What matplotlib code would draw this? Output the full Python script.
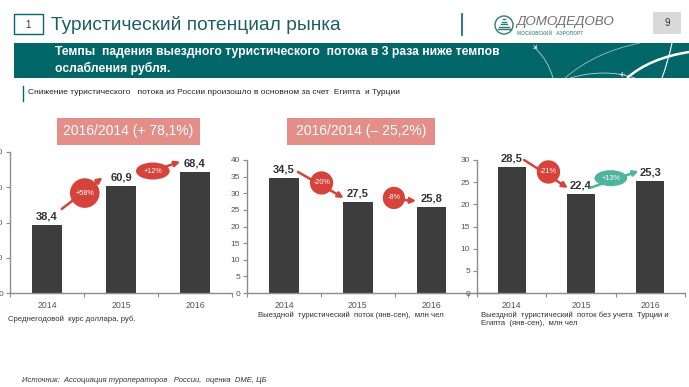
import matplotlib
matplotlib.use("Agg")
import matplotlib.pyplot as plt
from matplotlib.patches import Rectangle, PathPatch, Circle
from matplotlib.path import Path

plt.rcParams['font.family'] = ['Liberation Sans', 'DejaVu Sans']

# ---------------- data ----------------
years = ["2014", "2015", "2016"]
usd_rate = [38.4, 60.9, 68.4]
outbound_flow = [34.5, 27.5, 25.8]
outbound_ex_tr_eg = [28.5, 22.4, 25.3]
value_labels_1 = ["38,4", "60,9", "68,4"]
value_labels_2 = ["34,5", "27,5", "25,8"]
value_labels_3 = ["28,5", "22,4", "25,3"]
change_labels_1 = ["+58%", "+12%"]
change_labels_2 = ["-20%", "-8%"]
change_labels_3 = ["-21%", "+13%"]
yticks_1 = [0, 20, 40, 60, 80]
yticks_2 = [0, 5, 10, 15, 20, 25, 30, 35, 40]
yticks_3 = [0, 5, 10, 15, 20, 25, 30]

title = "Туристический потенциал рынка"
banner = "Темпы  падения выездного туристического  потока в 3 раза ниже темпов\nослабления рубля."
subtitle = "Снижение туристического   потока из России произошло в основном за счет  Египта  и Турции"
box1 = "2016/2014 (+ 78,1%)"
box2 = "2016/2014 (– 25,2%)"
cap1 = "Среднегодовой  курс доллара, руб."
cap2 = "Выездной  туристический  поток (янв-сен),  млн чел"
cap3 = "Выездной  туристический  поток без учета  Турции и\nЕгипта  (янв-сен),  млн чел"
source = "Источник:  Ассоциация туроператоров   России,  оценка  DME, ЦБ"

W, H = 689, 387
fig = plt.figure(figsize=(W / 100, H / 100), dpi=100)
fig.patch.set_facecolor("white")

TEAL = "#036669"
PINK = "#e38e89"
RED = "#d5433a"
GREEN = "#4fb3a2"
BAR = "#3d3d3d"
AX = "#8c8c8c"
TXT = "#555555"


def px_axes(left, top, right, bottom, **kw):
    return fig.add_axes([left / W, 1 - bottom / H, (right - left) / W, (bottom - top) / H], **kw)


# ---------------- overlay (header etc.) ----------------
ov = fig.add_axes([0, 0, 1, 1], zorder=0)
ov.set_xlim(0, W)
ov.set_ylim(H, 0)
ov.axis("off")

ov.add_patch(Rectangle((14, 14), 29, 20, fill=False, ec=TEAL, lw=1.0))
ov.text(28.5, 24.5, "1", ha="center", va="center", fontsize=7, color="#333333")
ov.text(51, 24.5, title, ha="left", va="center", fontsize=13.8, color="#1d5e63")
ov.plot([462, 462], [14, 35], color=TEAL, lw=1.2)
ov.add_patch(Circle((504, 25), 9, fill=False, ec="#2f7a78", lw=1.0))
for k in range(5):
    ov.plot([504 - 1.2 * k - 1, 504 + 1.2 * k + 1], [19 + 2.6 * k, 19 + 2.6 * k], color="#2f7a78", lw=1.0)
ov.text(516, 22.5, "ДОМОДЕДОВО", ha="left", va="center", fontsize=9.6, color="#6e6e6e",
        style="italic")
ov.text(517, 33, "МОСКОВСКИЙ   АЭРОПОРТ", ha="left", va="center", fontsize=3.4, color="#5a9a98",
        fontweight="bold")
ov.add_patch(Rectangle((653, 12), 28, 22, color="#d9d9d9", lw=0))
ov.text(667, 23.5, "9", ha="center", va="center", fontsize=7, color="#333333")

ov.add_patch(Rectangle((14, 43), W - 14, 35, color=TEAL, lw=0))
ov.text(55, 60.5, banner, ha="left", va="center", fontsize=8.7, color="white",
        fontweight="bold", linespacing=1.3)


def curve(pts, lw, alpha=1.0):
    codes = [Path.MOVETO] + [Path.CURVE3] * (len(pts) - 1)
    ov.add_patch(PathPatch(Path(pts, codes), fill=False, ec="white", lw=lw, alpha=alpha))


curve([(535, 48), (548, 60), (553, 78)], 0.6, 0.7)
curve([(565, 78), (595, 52), (640, 43)], 0.6, 0.6)
curve([(570, 78), (605, 68), (635, 78)], 0.6, 0.7)
curve([(627, 78), (650, 58), (689, 52)], 1.8)
curve([(672, 43), (668, 62), (662, 78)], 0.8)
ov.text(534, 47.5, "✈", fontsize=5, color="white", ha="center", va="center", family="DejaVu Sans", rotation=-40)
ov.text(622, 72, "✈", fontsize=5, color="white", ha="center", va="center", family="DejaVu Sans", rotation=180)

ov.plot([23, 23], [86, 101], color=TEAL, lw=1.0)
ov.text(28, 92.5, subtitle, ha="left", va="center", fontsize=6.0, color="#222222")

ov.add_patch(Rectangle((57, 118), 143, 27, color=PINK, lw=0))
ov.text(128.5, 131.5, box1, ha="center", va="center", fontsize=10, color="white")
ov.add_patch(Rectangle((287, 118), 148, 27, color=PINK, lw=0))
ov.text(361, 131.5, box2, ha="center", va="center", fontsize=10, color="white")

ov.text(8, 319, cap1, ha="left", va="center", fontsize=5.6, color="#333333")
ov.text(258, 315, cap2, ha="left", va="center", fontsize=5.6, color="#333333")
ov.text(481, 319, cap3, ha="left", va="center", fontsize=5.6, color="#333333", linespacing=1.25)
ov.text(22, 381, source, ha="left", va="center", fontsize=5.5, color="#333333", style="italic")


# ---------------- charts ----------------
def chart(ax, values, labels, yticks, xmax, changes, arrows, circles, colors, shapes):
    x = list(range(len(values)))
    ax.bar(x, values, width=0.4, color=BAR, zorder=2)
    ax.set_xlim(-0.5, xmax)
    ax.set_ylim(yticks[0], yticks[-1])
    ax.set_yticks(yticks)
    ax.set_yticklabels([str(t) for t in yticks])
    ax.set_xticks(x)
    ax.set_xticklabels(years)
    ax.set_xticks([i - 0.5 for i in range(len(values) + 1)], minor=True)
    ax.tick_params(axis="x", which="major", length=0, labelsize=6.3, labelcolor=TXT, pad=6)
    ax.tick_params(axis="x", which="minor", length=3, color=AX, width=0.8)
    ax.tick_params(axis="y", length=3, color=AX, width=0.8, labelsize=6, labelcolor=TXT, pad=2)
    for s in ("top", "right"):
        ax.spines[s].set_visible(False)
    for s in ("left", "bottom"):
        ax.spines[s].set_color(AX)
        ax.spines[s].set_linewidth(1.0)
    ax.patch.set_alpha(0)
    for xi, v, lab in zip(x, values, labels):
        ax.annotate(lab, (xi, v), xytext=(0, 2.5), textcoords="offset points",
                    ha="center", va="bottom", fontsize=8, fontweight="bold", color="#333333")
    for (tail, head), (cx, cy), lab, col, shp in zip(arrows, circles, changes, colors, shapes):
        ax.annotate("", xy=head, xytext=tail, xycoords="data",
                    arrowprops=dict(arrowstyle="-|>", color=col, lw=1.8, mutation_scale=8,
                                    shrinkA=0, shrinkB=0), annotation_clip=False, zorder=4)
        ax.text(cx, cy, lab, ha="center", va="center", fontsize=5.2, color="white", zorder=5,
                bbox=dict(boxstyle=shp, fc=col, ec="none"), clip_on=False)


ax1 = px_axes(10, 152, 232, 293, zorder=2)
chart(ax1, usd_rate, value_labels_1, yticks_1, 2.46, change_labels_1,
      [((0.2, 47.7), (0.75, 65.5)), ((1.27, 67.0), (1.8, 74.5))],
      [(0.51, 56.7), (1.43, 69.2)], [RED, RED], ["circle,pad=0.75", "ellipse,pad=0.35"])

ax2 = px_axes(247, 160, 498, 293, zorder=2)
chart(ax2, outbound_flow, value_labels_2, yticks_2, 2.9, change_labels_2,
      [((0.19, 36.4), (0.81, 28.6)), ((1.38, 28.3), (1.79, 27.7))],
      [(0.51, 33.1), (1.49, 28.6)], [RED, RED], ["circle,pad=0.45", "circle,pad=0.65"])

ax3 = px_axes(477, 160, 685, 293, zorder=3)
chart(ax3, outbound_ex_tr_eg, value_labels_3, yticks_3, 2.43, change_labels_3,
      [((0.18, 30.0), (0.81, 23.7)), ((1.13, 23.7), (1.83, 27.5))],
      [(0.53, 27.3), (1.43, 25.9)], [RED, GREEN], ["circle,pad=0.45", "ellipse,pad=0.3"])

fig.savefig("out.png", dpi=100)
